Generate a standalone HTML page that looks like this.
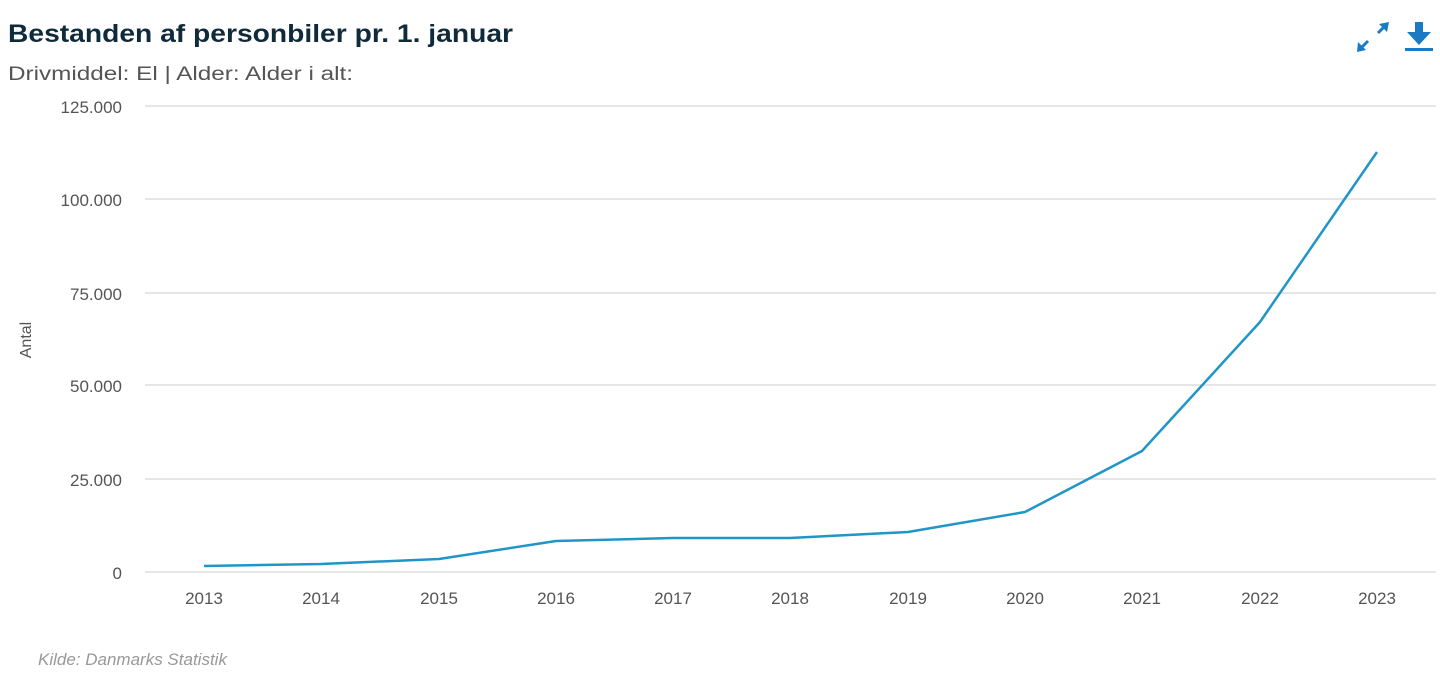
<!DOCTYPE html>
<html><head><meta charset="utf-8"><style>
html,body{margin:0;padding:0;background:#fff;width:1440px;height:687px;overflow:hidden}
svg{display:block}
</style></head><body>
<svg width="1440" height="687" xmlns="http://www.w3.org/2000/svg" font-family="Liberation Sans, sans-serif">
<text x="8" y="42" font-size="25" font-weight="bold" fill="#0f2a3a" textLength="505" lengthAdjust="spacingAndGlyphs">Bestanden af personbiler pr. 1. januar</text>
<text x="8" y="80" font-size="19" fill="#555" textLength="345" lengthAdjust="spacingAndGlyphs">Drivmiddel: El | Alder: Alder i alt:</text>
<g stroke="#1a7ac4" stroke-width="3" fill="#1a7ac4">
<line x1="1378" y1="33" x2="1386" y2="25"/>
<line x1="1360" y1="49" x2="1368" y2="41"/>
<polygon points="1389,22 1379,24 1387,32" stroke="none"/>
<polygon points="1357,52 1358,42 1366,50" stroke="none"/>
</g>
<g fill="#1a7ac4">
<rect x="1415" y="22" width="8" height="12"/>
<polygon points="1407,32 1431,32 1419,45"/>
<rect x="1405" y="48" width="28" height="3"/>
</g>
<g stroke="#ccc" stroke-width="1">
<line x1="145" y1="106" x2="1436" y2="106"/>
<line x1="145" y1="199" x2="1436" y2="199"/>
<line x1="145" y1="293" x2="1436" y2="293"/>
<line x1="145" y1="385" x2="1436" y2="385"/>
<line x1="145" y1="479" x2="1436" y2="479"/>
<line x1="145" y1="572" x2="1436" y2="572"/>
</g>
<g font-size="17" fill="#555" text-anchor="end">
<text x="122" y="113">125.000</text>
<text x="122" y="206">100.000</text>
<text x="122" y="300">75.000</text>
<text x="122" y="392">50.000</text>
<text x="122" y="486">25.000</text>
<text x="122" y="579">0</text>
</g>
<text transform="translate(31,340) rotate(-90)" font-size="16" fill="#555" text-anchor="middle">Antal</text>
<g font-size="17" fill="#555" text-anchor="middle">
<text x="204" y="604">2013</text><text x="321" y="604">2014</text><text x="439" y="604">2015</text>
<text x="556" y="604">2016</text><text x="673" y="604">2017</text><text x="790" y="604">2018</text>
<text x="908" y="604">2019</text><text x="1025" y="604">2020</text><text x="1142" y="604">2021</text>
<text x="1260" y="604">2022</text><text x="1377" y="604">2023</text>
</g>
<polyline fill="none" stroke="#1f95c8" stroke-width="2.5" stroke-linejoin="round" points="204,566 321,564 439,559 556,541 673,538 790,538 908,532 1025,512 1142,451 1260,322 1377,152"/>
<text x="38" y="665" font-size="17" font-style="italic" fill="#999">Kilde: Danmarks Statistik</text>
</svg>
</body></html>
